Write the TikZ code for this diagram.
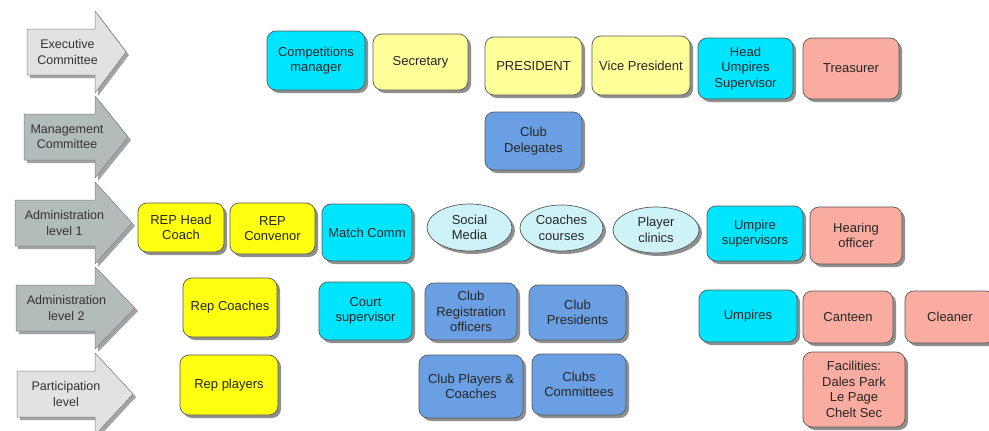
\documentclass[tikz,border=0pt]{standalone}
\usepackage{fontspec}
\setmainfont{Liberation Sans}
\usepackage{xcolor}
\usetikzlibrary{shapes,shadows,positioning}

\definecolor{cyanbox}{HTML}{00E5FF}
\definecolor{paleyellow}{HTML}{FFFF99}
\definecolor{brightyellow}{HTML}{FFFF10}
\definecolor{salmonbox}{HTML}{F9AC9F}
\definecolor{clubblue}{HTML}{6B9FE3}
\definecolor{palecyan}{HTML}{CDF3F8}
\definecolor{arrowlight}{HTML}{E2E2E2}
\definecolor{arrowdark}{HTML}{B3BBBB}

\begin{document}
\begin{tikzpicture}[x=1pt, y=-1pt,
    card/.style={rectangle, rounded corners=9pt, draw=black!65, line width=0.7pt, align=center,
        font=\fontsize{13}{15.5}\selectfont, text=black!85, inner sep=2pt,
        drop shadow={shadow xshift=3pt, shadow yshift=-3pt, fill=black!55, opacity=0.8}},
    oval/.style={ellipse, draw=black!65, line width=0.7pt, fill=palecyan, align=center,
        font=\fontsize{13}{15.5}\selectfont, text=black!85, inner sep=0pt,
        drop shadow={shadow xshift=3pt, shadow yshift=-3pt, fill=black!55, opacity=0.8}},
    level/.style={draw=black!50, line width=0.5pt,
        drop shadow={shadow xshift=3pt, shadow yshift=-3pt, fill=black!45, opacity=0.8}},
    leveltext/.style={align=center, font=\fontsize{12.5}{15.5}\selectfont, text=black!80}
]
    \fill[white] (0,0) rectangle (989,431);
    \useasboundingbox (0,0) rectangle (989,431);

    % level arrows on the left
    \foreach \c/\l/\t/\col/\name/\txt in {
        52/27/126/arrowlight/exec/{Executive\\Committee},
        137/24/128/arrowdark/mgmt/{Management\\Committee},
        223/15/132/arrowdark/adminA/{Administration\\level 1},
        308/16/135/arrowdark/adminB/{Administration\\level 2},
        394/17/133/arrowlight/partic/{Participation\\level}}
    {
        \filldraw[level, fill=\col] (\l,\c-23) -- (95,\c-23) -- (95,\c-41) -- (\t,\c)
            -- (95,\c+41) -- (95,\c+23) -- (\l,\c+23) -- cycle;
        \node[leveltext] (\name) at ({(\l+\t)/2-9},\c) {\txt};
    }

    % executive committee
    \node[card, fill=cyanbox, minimum width=98pt, minimum height=59pt] (compman) at (316,60.5) {Competitions\\manager};
    \node[card, fill=paleyellow, minimum width=95pt, minimum height=56pt] (secretary) at (420.5,62) {Secretary};
    \node[card, fill=paleyellow, minimum width=97pt, minimum height=58pt] (president) at (533.5,66) {PRESIDENT};
    \node[card, fill=paleyellow, minimum width=98pt, minimum height=59pt] (vicepres) at (641,65.5) {Vice President};
    \node[card, fill=cyanbox, minimum width=95pt, minimum height=61pt] (headump) at (745.5,68.5) {Head\\Umpires\\Supervisor};
    \node[card, fill=salmonbox, minimum width=96pt, minimum height=61pt] (treasurer) at (851,68.5) {Treasurer};

    % management committee
    \node[card, fill=clubblue, minimum width=97pt, minimum height=58pt] (delegates) at (533.5,141) {Club\\Delegates};

    % administration level 1
    \node[card, fill=brightyellow, minimum width=86pt, minimum height=49pt] (rephead) at (181,227.5) {REP Head\\Coach};
    \node[card, fill=brightyellow, minimum width=85pt, minimum height=51pt] (repconv) at (272.5,228.5) {REP\\Convenor};
    \node[card, fill=cyanbox, minimum width=90pt, minimum height=57pt] (matchcomm) at (367,232.5) {Match Comm};
    \node[oval, minimum width=85pt, minimum height=47pt] (social) at (469.5,227.5) {Social\\Media};
    \node[oval, minimum width=83pt, minimum height=46pt] (courses) at (561.5,228) {Coaches\\courses};
    \node[oval, minimum width=86pt, minimum height=46pt] (clinics) at (656,230) {Player\\clinics};
    \node[card, fill=cyanbox, minimum width=96pt, minimum height=55pt] (umpsup) at (755,233.5) {Umpire\\supervisors};
    \node[card, fill=salmonbox, minimum width=92pt, minimum height=57pt] (hearing) at (856,235.5) {Hearing\\officer};

    % administration level 2
    \node[card, fill=brightyellow, minimum width=94pt, minimum height=59pt] (repcoaches) at (230,307.5) {Rep Coaches};
    \node[card, fill=cyanbox, minimum width=93pt, minimum height=58pt] (court) at (365.5,311) {Court\\supervisor};
    \node[card, fill=clubblue, minimum width=92pt, minimum height=57pt] (clubreg) at (471,311.5) {Club\\Registration\\officers};
    \node[card, fill=clubblue, minimum width=97pt, minimum height=55pt] (clubpres) at (577.5,312.5) {Club\\Presidents};
    \node[card, fill=cyanbox, minimum width=98pt, minimum height=52pt] (umpires) at (748,316) {Umpires};
    \node[card, fill=salmonbox, minimum width=90pt, minimum height=52pt] (canteen) at (848,317) {Canteen};
    \node[card, fill=salmonbox, minimum width=90pt, minimum height=52pt] (cleaner) at (950,317) {Cleaner};

    % participation level
    \node[card, fill=brightyellow, minimum width=98pt, minimum height=60pt] (repplayers) at (229,385) {Rep players};
    \node[card, fill=clubblue, minimum width=104pt, minimum height=63pt] (clubplayers) at (471,386.5) {Club Players \&\\Coaches};
    \node[card, fill=clubblue, minimum width=94pt, minimum height=61pt] (clubcomm) at (579,384.5) {Clubs\\Committees};
    \node[card, fill=salmonbox, minimum width=102pt, minimum height=75pt] (facilities) at (854,389.5) {Facilities:\\Dales Park\\Le Page\\Chelt Sec};
\end{tikzpicture}
\end{document}
